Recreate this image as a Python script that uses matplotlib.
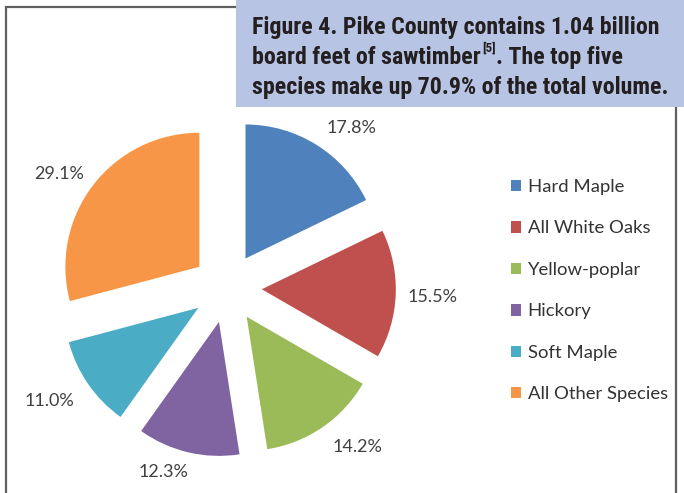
import matplotlib
matplotlib.use("Agg")
import matplotlib.pyplot as plt
from matplotlib.patches import Patch, Rectangle
from matplotlib import font_manager as fm

species = ["Hard Maple", "All White Oaks", "Yellow-poplar", "Hickory", "Soft Maple", "All Other Species"]
shares = [17.8, 15.5, 14.2, 12.3, 11.0, 29.1]
pct_labels = ["17.8%", "15.5%", "14.2%", "12.3%", "11.0%", "29.1%"]
colors = ["#4F81BD", "#C0504D", "#9BBB59", "#8064A2", "#4BACC6", "#F79646"]
title_lines = ["Figure 4. Pike County contains 1.04 billion",
               "board feet of sawtimber", "[5]", ". The top five",
               "species make up 70.9% of the total volume."]

# layout nudges for the data labels (pixels, +x right, +y down)
label_nudge_px = [(16, 14), (1, 2), (15, -10), (-16, -15), (-9, -4), (-5, 11)]

W, H = 684, 493
fig = plt.figure(figsize=(W / 100, H / 100), dpi=100)
fig.patch.set_facecolor("white")

# pick a bold condensed font for the heading if one exists
def pick_condensed_bold():
    prefs = ["Liberation Sans Narrow", "Roboto Condensed", "Open Sans Condensed",
             "Noto Sans Condensed", "DejaVu Sans Condensed", "Noto Sans", "DejaVu Sans",
             "Open Sans", "Roboto"]
    cands = []
    for f in fm.fontManager.ttflist:
        w = f.weight if isinstance(f.weight, int) else fm.weight_dict.get(f.weight, 400)
        condensed = ("condensed" in str(f.stretch)) or ("Narrow" in f.name) or ("Condensed" in f.name) \
            or ("ondensed" in f.fname) or ("Narrow" in f.fname)
        if condensed and 600 <= w <= 800 and f.style == "normal":
            rank = len(prefs)
            for i, p in enumerate(prefs):
                if f.name.startswith(p):
                    rank = i
                    break
            cands.append((rank, f.fname))
    if cands:
        cands.sort()
        return fm.FontProperties(fname=cands[0][1])
    return fm.FontProperties(family=["Liberation Sans", "DejaVu Sans"], weight="bold")

title_fp = pick_condensed_bold()

# outer frame
fig.add_artist(Rectangle((6 / W, -0.05), (676 - 6) / W, (H - 7) / H + 0.05,
                         transform=fig.transFigure, fill=False,
                         edgecolor="#5f5f5f", linewidth=1.6, zorder=1))

# pie axes: center (227, 288) px, radius 134 px
cx, cy, r, half = 227, 288, 134, 200
ax = fig.add_axes([(cx - half) / W, (H - cy - half) / H, 2 * half / W, 2 * half / H])
it = iter(pct_labels)
wedges, texts, autotexts = ax.pie(
    shares, colors=colors, startangle=90, counterclock=False,
    explode=[0.26] * len(shares), radius=1.0,
    autopct=lambda p: next(it), pctdistance=1.27,
    textprops=dict(family=["Lato", "DejaVu Sans"], fontsize=13, color="#404040"),
    wedgeprops=dict(linewidth=0),
)
for t, (dx, dy) in zip(autotexts, label_nudge_px):
    x, y = t.get_position()
    t.set_position((x + dx / r, y - dy / r))
    t.set_clip_on(False)
L = half / r
ax.set_xlim(-L, L)
ax.set_ylim(-L, L)
ax.set_aspect("auto")
ax.axis("off")

# legend
handles = [Patch(facecolor=c, edgecolor="none") for c in colors]
fig.legend(handles, species, loc="upper left", bbox_to_anchor=(511 / W, (H - 179) / H),
           frameon=False, borderpad=0, borderaxespad=0,
           handlelength=0.55, handleheight=0.55, handletextpad=0.35,
           labelspacing=1.38,
           prop=dict(family=["Lato", "DejaVu Sans"], size=13.3), labelcolor="#333333")

# title box
fig.add_artist(Rectangle((236 / W, (H - 107) / H), (W - 236) / W + 0.01, 107 / H + 0.01,
                         transform=fig.transFigure, facecolor="#B8C4E4",
                         edgecolor="none", zorder=3))

x0 = 252 / W
fs = 17.0
t1 = fig.text(x0, (H - 34) / H, title_lines[0], fontproperties=title_fp, fontsize=fs,
              color="#231F20", zorder=4)
# fit the first line to the reference width (~408 px)
fig.canvas.draw()
wpx = t1.get_window_extent().width
fs = fs * 408 / wpx
t1.set_fontsize(fs)
tkw = dict(fontproperties=title_fp, color="#231F20", zorder=4)
t2 = fig.text(x0, (H - 64) / H, title_lines[1], fontsize=fs, **tkw)
sup = fig.add_artist(plt.Annotation(title_lines[2], xy=(1, 1), xycoords=t2,
                                    xytext=(1, -6), textcoords="offset points",
                                    va="bottom", ha="left", fontsize=fs * 0.55, **tkw))
fig.add_artist(plt.Annotation(title_lines[3], xy=(1, 0), xycoords=t2,
                              xytext=(fs * 0.55 * 1.05 + 1, 0), textcoords="offset points",
                              va="bottom", ha="left", fontsize=fs, **tkw))
fig.text(x0, (H - 94) / H, title_lines[4], fontsize=fs, **tkw)

fig.savefig("out.png", dpi=100)
